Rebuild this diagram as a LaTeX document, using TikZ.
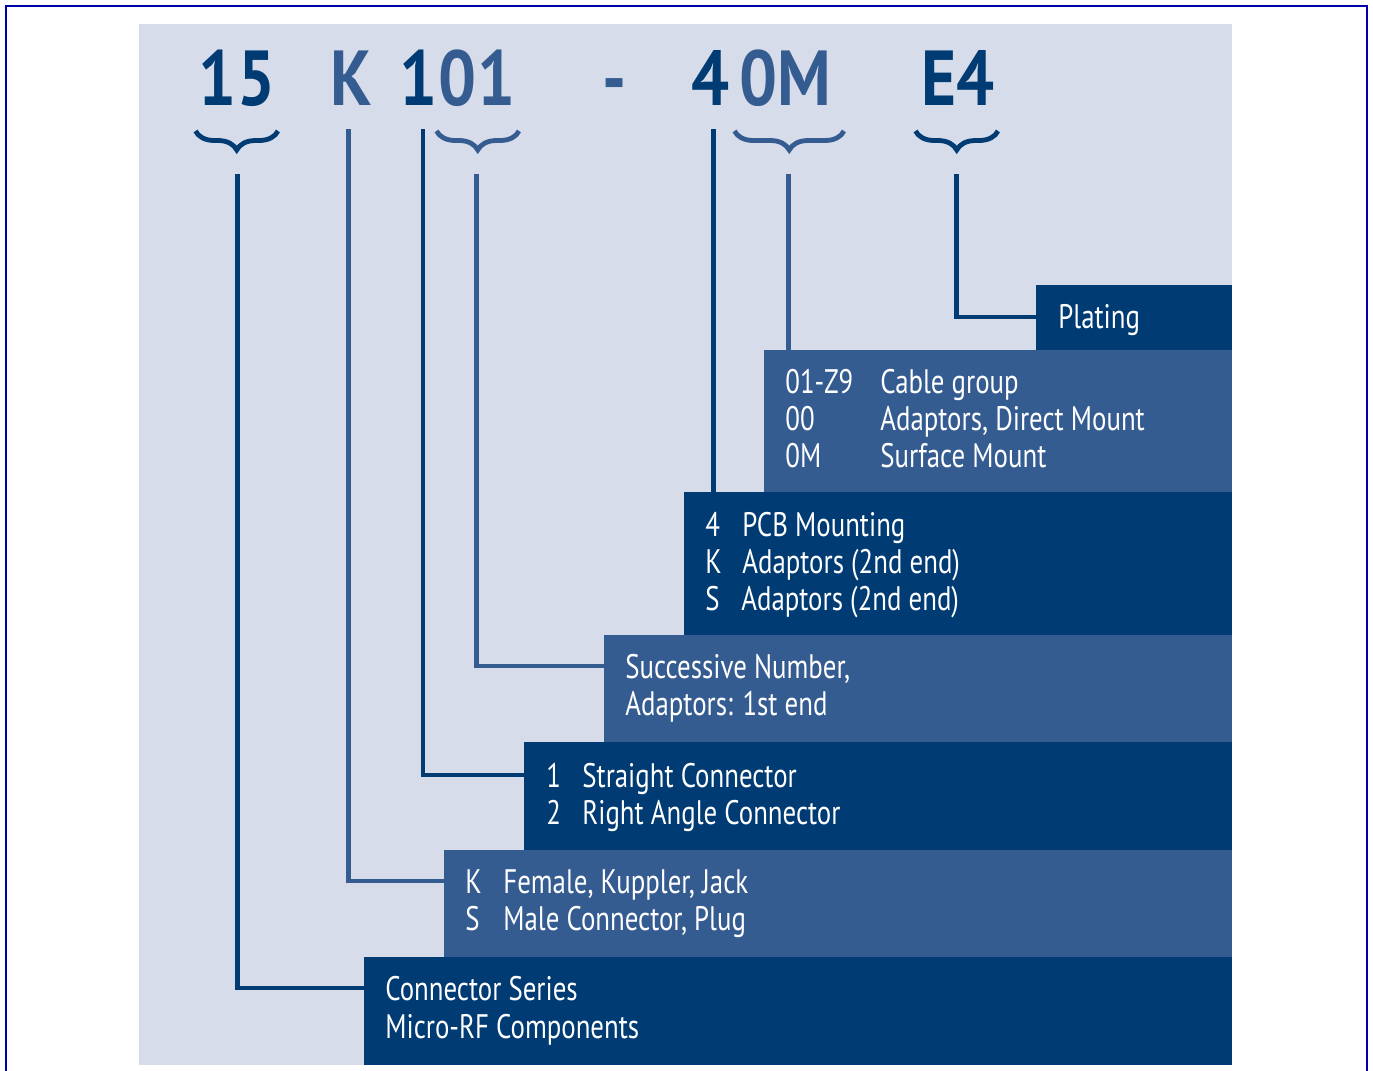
\documentclass[tikz,border=0pt]{standalone}
\usepackage{fontspec}
\setmainfont{PT Sans}[FakeStretch=0.79]
\newfontfamily\codefont{PT Sans Bold}[FakeStretch=0.86]
\usetikzlibrary{decorations.pathreplacing}

\definecolor{navy}{RGB}{0,59,115}
\definecolor{steel}{RGB}{53,92,145}
\definecolor{mist}{RGB}{214,220,234}
\definecolor{framecol}{RGB}{0,0,170}

% key column of a two-column row
\newcommand{\keyrow}[3]{\makebox[#1][l]{#2}#3}

\begin{document}
\begin{tikzpicture}[
    x=0.5pt, y=-0.5pt,
    darkbox/.style={rectangle, fill=navy, inner sep=0pt, anchor=north west},
    litebox/.style={rectangle, fill=steel, inner sep=0pt, anchor=north west},
    txt/.style={anchor=base west, inner sep=0pt, text=white, font=\fontsize{17}{18.5}\selectfont},
    code/.style={anchor=base, inner sep=0pt, font=\codefont\fontsize{39}{39}\selectfont},
    link/.style={line width=2.3pt},
    bracket/.style={line width=2.4pt, decorate, decoration={brace, mirror, amplitude=9.5pt, aspect=0.5}}
]
\useasboundingbox (0,0) rectangle (1373,1071);

% frame and background
\draw[framecol, line width=1.25pt] (6,1080) -- (6,6) -- (1367,6) -- (1367,1080);
\fill[mist] (139,24) rectangle (1231.5,1065);

% part number
\node[code, text=navy] (c15) at (237,105) {15};
\node[code, text=steel] (cK) at (351,105) {K};
\node[code, text=navy] (c1) at (419,105) {1};
\node[code, text=steel] (c01) at (477,105) {01};
\node[code, text=steel] (cdash) at (615,105) {-};
\node[code, text=navy] (c4) at (711,105) {4};
\node[code, text=steel] (c0M) at (785,105) {0M};
\node[code, text=navy] (cE4) at (958,105) {E4};

% braces
\draw[bracket, navy] (195.5,131) -- (278,131);
\draw[bracket, steel] (436.5,131) -- (519,131);
\draw[bracket, steel] (734.5,131) -- (844,131);
\draw[bracket, navy] (915.5,131) -- (998,131);

\coordinate (tip15) at (237.5,174);
\coordinate (capK) at (348.5,129);
\coordinate (cap1) at (423,129);
\coordinate (tip01) at (476.5,174);
\coordinate (cap4) at (713.5,129);
\coordinate (tip0M) at (788.5,174);
\coordinate (tipE4) at (956.5,174);

% boxes
\node[darkbox, minimum width=97.75pt, minimum height=32.5pt] (plating) at (1036,285) {};
\node[litebox, minimum width=233.75pt, minimum height=71pt] (cable) at (764,350) {};
\node[darkbox, minimum width=273.75pt, minimum height=71.5pt] (pcb) at (684,492) {};
\node[litebox, minimum width=313.75pt, minimum height=53.5pt] (succ) at (604,635) {};
\node[darkbox, minimum width=353.75pt, minimum height=54pt] (straight) at (524,742) {};
\node[litebox, minimum width=393.75pt, minimum height=53.5pt] (female) at (444,850) {};
\node[darkbox, minimum width=433.75pt, minimum height=54pt] (series) at (364,957) {};

% box texts
\node[txt] (plt1) at (1058,328) {Plating};

\node[txt] (cab1) at (785,393) {\keyrow{47.5pt}{01-Z9}{Cable group}};
\node[txt] (cab2) at (785,430) {\keyrow{47.5pt}{00}{Adaptors, Direct Mount}};
\node[txt] (cab3) at (785,467) {\keyrow{47.5pt}{0M}{Surface Mount}};

\node[txt] (pcb1) at (705,536) {\keyrow{18.5pt}{4}{PCB Mounting}};
\node[txt] (pcb2) at (705,573) {\keyrow{18.5pt}{K}{Adaptors (2nd end)}};
\node[txt] (pcb3) at (705,610) {\keyrow{18pt}{S}{Adaptors (2nd end)}};

\node[txt] (suc1) at (625,678) {Successive Number,};
\node[txt] (suc2) at (625,715) {Adaptors: 1st end};

\node[txt] (str1) at (546,787) {\keyrow{18pt}{1}{Straight Connector}};
\node[txt] (str2) at (546,824) {\keyrow{18pt}{2}{Right Angle Connector}};

\node[txt] (fem1) at (465,893) {\keyrow{19pt}{K}{Female, Kuppler, Jack}};
\node[txt] (fem2) at (465,930) {\keyrow{19pt}{S}{Male Connector, Plug}};

\node[txt] (ser1) at (385,1000) {Connector Series};
\node[txt] (ser2) at (385,1038) {Micro-RF Components};

% connectors
\draw[link, navy] (tip15) |- ([yshift=6pt]series.west |- ser1.base);
\draw[link, steel] (capK) |- ([yshift=6pt]female.west |- fem1.base);
\draw[link, navy] (cap1) |- ([yshift=6pt]straight.west |- str1.base);
\draw[link, steel] (tip01) |- ([yshift=6pt]succ.west |- suc1.base);
\draw[link, navy] (cap4) -- (cap4 |- pcb.north);
\draw[link, steel] (tip0M) -- (tip0M |- cable.north);
\draw[link, navy] (tipE4) |- ([yshift=5.5pt]plating.west |- plt1.base);

\end{tikzpicture}
\end{document}
